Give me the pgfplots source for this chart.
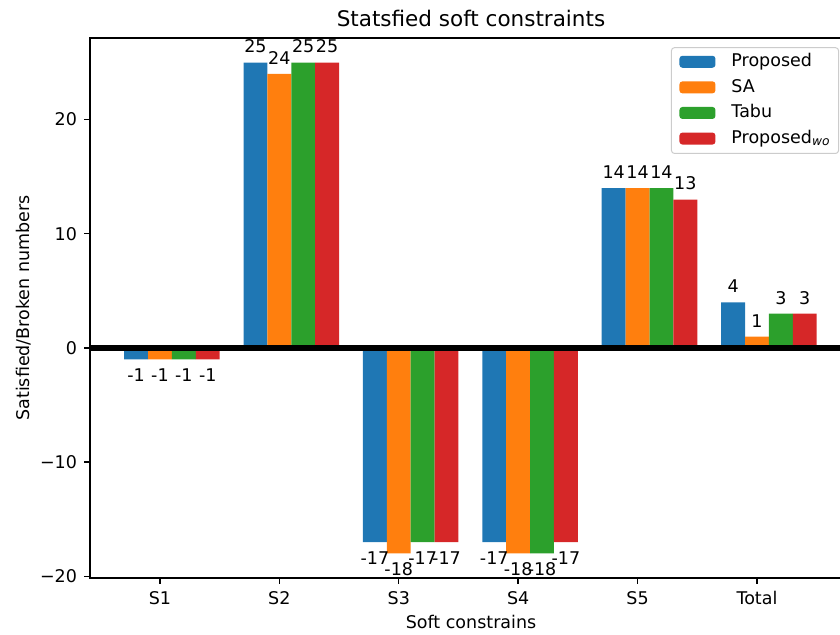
\documentclass[border=0pt]{standalone}
\usepackage{fontspec}
\setmainfont{DejaVu Sans}
\usepackage{pgfplots}
\pgfplotsset{compat=1.18}
\definecolor{cB}{HTML}{1F77B4}
\definecolor{cO}{HTML}{FF7F0E}
\definecolor{cG}{HTML}{2CA02C}
\definecolor{cR}{HTML}{D62728}
\begin{document}
\begin{tikzpicture}
\begin{axis}[
  scale only axis, width=381pt, height=270pt,
  xmin=-0.586, xmax=5.796, ymin=-20.15, ymax=27.15,
  ybar, bar width=0.2,
  xtick={0,1,2,3,4,5}, xticklabels={S1,S2,S3,S4,S5,Total},
  ytick={-20,-10,0,10,20}, yticklabels={−20,−10,0,10,20},
  tick align=outside, tick pos=left,
  major tick length=3pt,
  every tick/.style={black, line width=0.7pt},
  axis line style={line width=0.7pt},
  font=\fontsize{8.75}{10}\selectfont,
  ticklabel style={font=\fontsize{8.75}{10}\selectfont},
  title={Statsfied soft constraints},
  every axis title/.style={font=\fontsize{10.75}{12}\selectfont, at={(axis description cs:0.5,1)}, anchor=base, yshift=5.5pt},
  xlabel={Soft constrains}, ylabel={Satisfied/Broken numbers},
  every axis x label/.style={at={(axis description cs:0.5,-0.0815)}, anchor=center, font=\fontsize{8.75}{10}\selectfont},
  every axis y label/.style={at={(axis description cs:-0.0866,0.5)}, anchor=center, rotate=90, font=\fontsize{8.75}{10}\selectfont},
  nodes near coords, point meta=y,
  /pgf/number format/assume math mode=true,
  every node near coord/.append style={font=\fontsize{8.75}{10}\selectfont, inner sep=4.5pt, black},
  legend cell align=left,
  legend image code/.code={\fill[#1] (0pt,-2.8pt) rectangle (18pt,3.2pt); \path (26pt,0pt);},
  legend style={at={(rel axis cs:0.983,0.983)}, anchor=north east, draw=black!20, line width=0.5pt,
    rounded corners=1.5pt, fill=white, inner xsep=4pt, inner ysep=3pt,
    font=\fontsize{8.75}{10}\selectfont, row sep=4.3pt,
    nodes={inner sep=0pt, text height=6.5pt, text depth=2pt}},
]
\addplot[draw=none, fill=cB, bar shift=-0.2] coordinates {(0,-1) (1,25) (2,-17) (3,-17) (4,14) (5,4)};
\addplot[draw=none, fill=cO, bar shift=0] coordinates {(0,-1) (1,24) (2,-18) (3,-18) (4,14) (5,1)};
\addplot[draw=none, fill=cG, bar shift=0.2] coordinates {(0,-1) (1,25) (2,-17) (3,-18) (4,14) (5,3)};
\addplot[draw=none, fill=cR, bar shift=0.4] coordinates {(0,-1) (1,25) (2,-17) (3,-17) (4,13) (5,3)};
\legend{Proposed, SA, Tabu, Proposed\textsubscript{\textit{wo}}}
\draw[black, line width=3.2pt] (axis cs:-0.586,0) -- (axis cs:5.796,0);
\coordinate (O) at (rel axis cs:0,0);
\end{axis}
\pgfresetboundingbox
\path ([shift={(-45pt,-28.5pt)}]O) rectangle ([shift={(375pt,289pt)}]O);
\end{tikzpicture}
\end{document}
